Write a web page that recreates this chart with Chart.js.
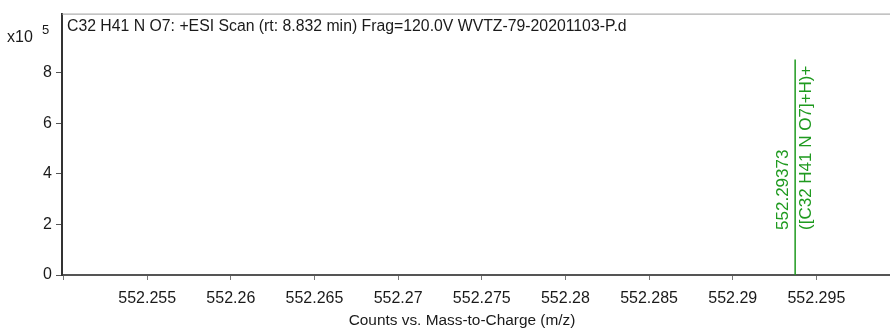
<!DOCTYPE html>
<html>
<head>
<meta charset="utf-8">
<script src="https://cdn.jsdelivr.net/npm/chart.js@4"></script>
<style>
  html, body { margin: 0; padding: 0; background: #fff; }
  #wrap { width: 890px; height: 329px; }
</style>
</head>
<body>
<div id="wrap"><canvas id="specChart" width="890" height="329"></canvas></div>
<script>
// Spectrum data (counts in units of x10^5)
const peakMz = [552.29373];
const peakCounts = [8.52];
const peakMassLabels = ['552.29373'];
const peakFormulaLabels = ['([C32 H41 N O7]+H)+'];

const xTicks = [552.25, 552.255, 552.26, 552.265, 552.27, 552.275, 552.28, 552.285, 552.29, 552.295];
const yTicks = [0, 2, 4, 6, 8];

const plotTitle = 'C32 H41 N O7: +ESI Scan (rt: 8.832 min) Frag=120.0V WVTZ-79-20201103-P.d';
const xAxisTitle = 'Counts vs. Mass-to-Charge (m/z)';

const FONT = '"Liberation Sans", Arial, sans-serif';
const GREEN = '#1f9a1f';

// Each peak is a vertical stick from 0 up to its height
const stickData = [];
peakMz.forEach((mz, i) => {
  stickData.push({ x: mz, y: 0 });
  stickData.push({ x: mz, y: peakCounts[i] });
  stickData.push({ x: NaN, y: NaN });
});

// Draws the titles, the exponent note, the top frame line and the peak labels
const annotations = {
  id: 'annotations',
  afterDraw(chart) {
    const ctx = chart.ctx;
    const area = chart.chartArea;
    const xs = chart.scales.x;
    const ys = chart.scales.y;

    ctx.save();
    // top frame line
    ctx.strokeStyle = '#9a9a9a';
    ctx.lineWidth = 1;
    ctx.beginPath();
    ctx.moveTo(area.left, area.top + 0.5);
    ctx.lineTo(area.right, area.top + 0.5);
    ctx.stroke();

    ctx.fillStyle = '#1a1a1a';
    ctx.font = '15.8px ' + FONT;
    ctx.textBaseline = 'middle';
    ctx.textAlign = 'left';
    ctx.fillText(plotTitle, area.left + 5, 27);

    ctx.font = '16px ' + FONT;
    ctx.fillText('x10', 7, 38);
    ctx.font = '13px ' + FONT;
    ctx.fillText('5', 42, 30);

    // x axis title
    ctx.font = '15.4px ' + FONT;
    ctx.textAlign = 'center';
    ctx.fillText(xAxisTitle, 462, 321);

    // peak labels, rotated
    ctx.font = '17px ' + FONT;
    ctx.fillStyle = GREEN;
    peakMz.forEach((mz, i) => {
      const px = xs.getPixelForValue(mz);
      const base = ys.getPixelForValue(1.78);
      ctx.save();
      ctx.translate(px, base);
      ctx.rotate(-Math.PI / 2);
      ctx.textAlign = 'left';
      ctx.textBaseline = 'bottom';
      ctx.fillText(peakMassLabels[i], 0, -3);
      ctx.textBaseline = 'top';
      ctx.fillText(peakFormulaLabels[i], 0, 3);
      ctx.restore();
    });
    ctx.restore();
  }
};

new Chart(document.getElementById('specChart'), {
  type: 'line',
  data: {
    datasets: [{
      data: stickData,
      borderColor: GREEN,
      borderWidth: 1.5,
      pointRadius: 0,
      spanGaps: false,
      tension: 0
    }]
  },
  options: {
    responsive: false,
    animation: false,
    layout: { padding: { top: 10, right: 0, left: 0, bottom: 0 } },
    plugins: {
      legend: { display: false },
      tooltip: { enabled: false }
    },
    scales: {
      x: {
        type: 'linear',
        min: 552.24991,
        max: 552.2994,
        afterBuildTicks: scale => { scale.ticks = xTicks.map(v => ({ value: v })); },
        afterFit: scale => { scale.height = 54; },
        border: { display: true, color: '#555', width: 2 },
        grid: { drawOnChartArea: false, drawTicks: true, tickLength: 5, color: '#777' },
        ticks: {
          color: '#1a1a1a',
          font: { family: FONT, size: 16 },
          padding: 9,
          maxRotation: 0,
          autoSkip: false,
          callback: value => value === xTicks[0] ? '' : String(Number(value.toFixed(3)))
        }
      },
      y: {
        min: 0,
        max: 10.33,
        afterBuildTicks: scale => { scale.ticks = yTicks.map(v => ({ value: v })); },
        afterFit: scale => { scale.width = 62; },
        border: { display: true, color: '#333', width: 2 },
        grid: { drawOnChartArea: false, drawTicks: true, tickLength: 6, color: '#555' },
        ticks: {
          color: '#1a1a1a',
          font: { family: FONT, size: 16 },
          padding: 4
        }
      }
    }
  },
  plugins: [annotations]
});
</script>
</body>
</html>
